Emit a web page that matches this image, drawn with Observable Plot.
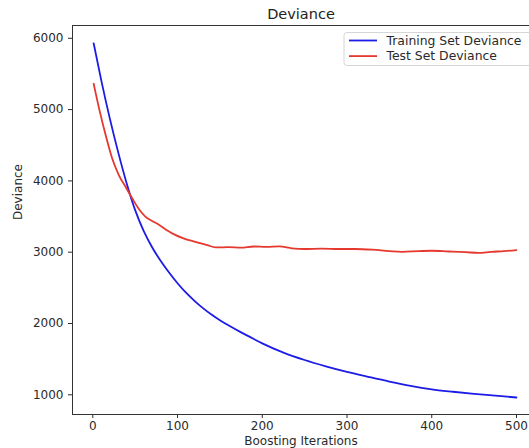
<!DOCTYPE html>
<html><head><meta charset="utf-8">
<script src="https://cdn.jsdelivr.net/npm/d3@7"></script>
<script src="https://cdn.jsdelivr.net/npm/@observablehq/plot@0.6"></script>
<style>body{margin:0;background:#fff}</style>
</head><body><div id="chart"></div>
<script>
const title = "Deviance";
const xLabel = "Boosting Iterations";
const yLabel = "Deviance";
const seriesNames = ["Training Set Deviance", "Test Set Deviance"];
const seriesColors = ["#1c1ce6", "#e5392f"];
const xTicks = [0, 100, 200, 300, 400, 500];
const yTicks = [1000, 2000, 3000, 4000, 5000, 6000];

const trainIter = [1,10,20,30,40,50,60,70,80,90,100,110,120,130,140,150,160,175,190,200,225,250,275,300,325,350,375,400,425,450,475,500];
const trainDev  = [5930,5410,4880,4400,3965,3590,3300,3070,2880,2715,2565,2432,2318,2215,2125,2045,1975,1875,1782,1722,1592,1488,1400,1322,1252,1185,1125,1077,1043,1013,988,962];

const testIter = [1,8,15,23,31,39,47,55,62,70,78,88,96,107,120,135,145,160,175,190,205,220,235,250,270,290,310,330,350,365,385,400,420,440,455,470,485,500];
const testDev  = [5362,4985,4650,4310,4075,3910,3745,3595,3500,3438,3385,3305,3250,3195,3148,3100,3068,3070,3065,3080,3075,3082,3055,3045,3050,3045,3045,3035,3015,3005,3015,3020,3010,3000,2990,3005,3015,3030];

const data = [
  ...trainIter.map((x, i) => ({x, y: trainDev[i], series: seriesNames[0]})),
  ...testIter.map((x, i) => ({x, y: testDev[i], series: seriesNames[1]}))
];

const W = 529, H = 448, mL = 72, mR = 0, mT = 25, mB = 34;

const plot = Plot.plot({
  width: W, height: H,
  marginLeft: mL, marginRight: mR, marginTop: mT, marginBottom: mB,
  style: {fontFamily: "DejaVu Sans", fontSize: "12px", color: "#2a2a2a", background: "#fff", overflow: "visible"},
  x: {domain: [-23.95, 515.35], ticks: xTicks, tickSize: 4, tickPadding: 3, label: null, tickFormat: d => String(d)},
  y: {domain: [723.7, 6179.5], ticks: yTicks, tickSize: 4, tickPadding: 5, label: null, tickFormat: d => String(d)},
  color: {domain: seriesNames, range: seriesColors},
  marks: [
    Plot.frame({anchor: "left", stroke: "#333"}),
    Plot.frame({anchor: "bottom", stroke: "#333"}),
    Plot.frame({anchor: "top", stroke: "#333"}),
    Plot.line(data, {x: "x", y: "y", z: "series", stroke: "series", strokeWidth: 1.8, curve: "monotone-x"}),
    Plot.text([title], {frameAnchor: "top", lineAnchor: "middle", dy: -11, fontSize: 14.5, fill: "#222"}),
    Plot.text([xLabel], {frameAnchor: "bottom", lineAnchor: "middle", dy: 27, fontSize: 12, fill: "#2a2a2a"}),
    Plot.text([yLabel], {frameAnchor: "left", dx: -54, rotate: -90, fontSize: 12, fill: "#2a2a2a"})
  ]
});

// legend (matplotlib-style, upper right)
const svg = d3.select(plot);
const lg = svg.append("g").attr("font-family", "DejaVu Sans").attr("font-size", 12.4).attr("text-anchor", "start");
lg.append("rect").attr("x", 344).attr("y", 32.5).attr("width", 200).attr("height", 33)
  .attr("rx", 3).attr("fill", "#fff").attr("fill-opacity", 0.85).attr("stroke", "#d6d6d6");
seriesNames.forEach((name, i) => {
  const cy = 40.5 + i * 15.6;
  lg.append("line").attr("x1", 349).attr("x2", 377).attr("y1", cy).attr("y2", cy)
    .attr("stroke", seriesColors[i]).attr("stroke-width", 1.8);
  lg.append("text").attr("x", 386.5).attr("y", cy).attr("dy", "0.35em")
    .attr("text-anchor", "start").attr("fill", "#2a2a2a").text(name);
});

document.getElementById("chart").appendChild(plot);
</script>
</body></html>
